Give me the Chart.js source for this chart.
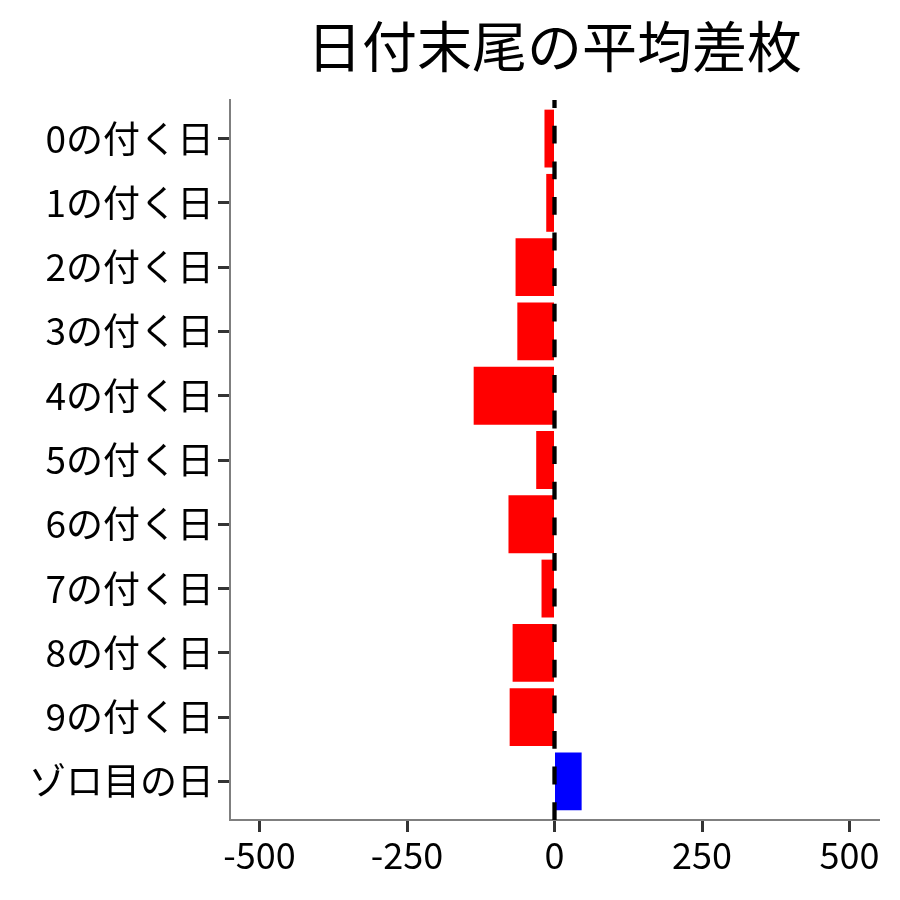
<!DOCTYPE html>
<html>
<head>
<meta charset="utf-8">
<script src="https://cdn.jsdelivr.net/npm/chart.js@4/dist/chart.umd.min.js"></script>
<style>
  html, body { margin: 0; padding: 0; background: #fff; }
  #wrap { width: 900px; height: 900px; }
</style>
</head>
<body>
<div id="wrap"><canvas id="myChart" width="900" height="900"></canvas></div>
<script>
// data
const titleText = "日付末尾の平均差枚";
const dayLabels = [
  "0の付く日", "1の付く日", "2の付く日", "3の付く日", "4の付く日",
  "5の付く日", "6の付く日", "7の付く日", "8の付く日", "9の付く日",
  "ゾロ目の日",
];
const diffValues = [-17, -14, -66, -63, -137, -31, -78, -22, -71, -76, 46];
const xTickValues = [-500, -250, 0, 250, 500];

const FONT = "'Noto Sans CJK JP', 'Noto Sans', sans-serif";
Chart.defaults.font.family = FONT;
Chart.defaults.color = "#000";

/**
 * draws the dashed zero line over the bars, and the title centred on the panel
 */
const decorations = {
  id: "decorations",
  afterDatasetsDraw(chart) {
    const { ctx, chartArea, scales } = chart;
    const x0 = scales.x.getPixelForValue(0);
    ctx.save();
    ctx.strokeStyle = "#000";
    ctx.lineWidth = 4.3;
    ctx.lineCap = "butt";
    ctx.setLineDash([17.8, 17.8]);
    ctx.beginPath();
    ctx.moveTo(x0, chartArea.bottom);
    ctx.lineTo(x0, chartArea.top);
    ctx.stroke();
    ctx.restore();
  },
  afterDraw(chart) {
    const { ctx, chartArea } = chart;
    ctx.save();
    ctx.fillStyle = "#000";
    ctx.font = "55px " + FONT;
    ctx.textAlign = "center";
    ctx.textBaseline = "middle";
    ctx.fillText(titleText, (chartArea.left + chartArea.right) / 2, 46);
    ctx.restore();
  },
};

const ctx = document.getElementById("myChart").getContext("2d");

const myChart = new Chart(ctx, {
  type: "bar",
  data: {
    datasets: [
      {
        data: diffValues.map((v, i) => ({ x: v, y: i })),
        backgroundColor: diffValues.map((v) => (v < 0 ? "#ff0000" : "#0000ff")),
        borderWidth: 0,
        barPercentage: 0.9,
        categoryPercentage: 1,
      },
    ],
  },
  options: {
    indexAxis: "y",
    responsive: false,
    animation: false,
    layout: {
      padding: { top: 100, left: 30, right: 21, bottom: 0 },
    },
    scales: {
      x: {
        type: "linear",
        min: -550,
        max: 550,
        afterBuildTicks: (scale) => {
          scale.ticks = xTickValues.map((v) => ({ value: v }));
        },
        afterFit: (scale) => {
          scale.height = 80;
        },
        border: { display: true, color: "#7f7f7f", width: 2 },
        grid: {
          drawOnChartArea: false,
          drawTicks: true,
          tickLength: 12,
          tickWidth: 3,
          tickColor: "#333333",
        },
        ticks: {
          padding: 2,
          color: "#000",
          font: { size: 36 },
          maxRotation: 0,
          callback: (v) => String(v),
        },
      },
      y: {
        type: "linear",
        reverse: true,
        offset: false,
        min: -0.6,
        max: dayLabels.length - 0.4,
        afterBuildTicks: (scale) => {
          scale.ticks = dayLabels.map((_, i) => ({ value: i }));
        },
        afterFit: (scale) => {
          scale.width = 200;
        },
        border: { display: true, color: "#7f7f7f", width: 2 },
        grid: {
          offset: false,
          drawOnChartArea: false,
          drawTicks: true,
          tickLength: 12,
          tickWidth: 3,
          tickColor: "#333333",
        },
        ticks: {
          padding: 4,
          color: "#000",
          font: { size: 37 },
          callback: (v) => dayLabels[v] ?? "",
        },
      },
    },
    plugins: {
      legend: { display: false },
      tooltip: { enabled: false },
      title: { display: false },
    },
  },
  plugins: [decorations],
});
</script>
</body>
</html>
